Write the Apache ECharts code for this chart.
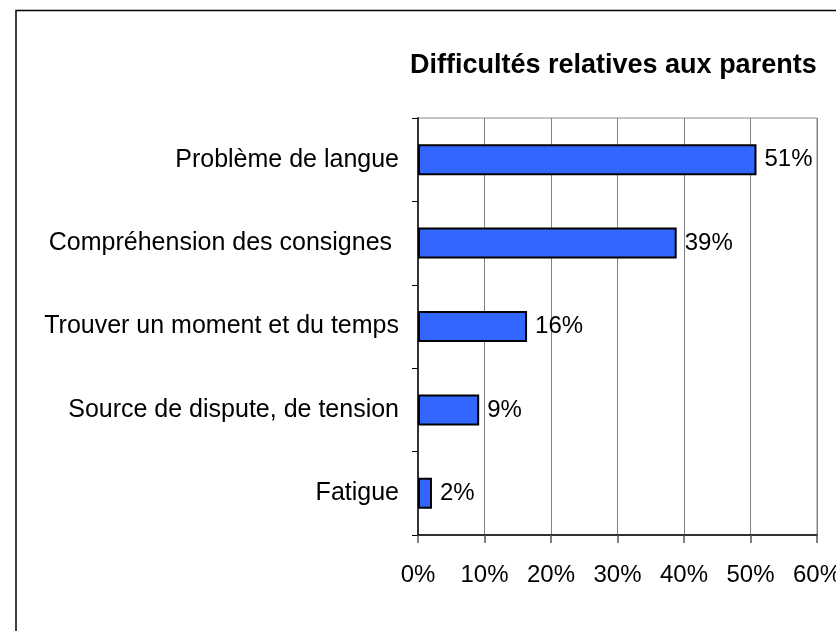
<!DOCTYPE html>
<html>
<head>
<meta charset="utf-8">
<title>Difficultés relatives aux parents</title>
<script src="https://cdn.jsdelivr.net/npm/echarts@6/dist/echarts.min.js"></script>
<style>
  html, body { margin: 0; padding: 0; background: #fff; }
  #chartContainer { width: 836px; height: 631px; }
</style>
</head>
<body>
<div id="chartContainer"></div>
<script>
// ============================================================
// DATA
// ============================================================

const chartTitle = 'Difficultés relatives aux parents';

// top to bottom, as in the picture
const categories = [
  'Problème de langue',
  'Compréhension des consignes ',
  'Trouver un moment et du temps',
  'Source de dispute, de tension',
  'Fatigue'
];

// percent values (bar lengths), labels are rounded
const percentValues = [50.9, 38.9, 16.4, 9.2, 2.1];

// x axis ticks 0..60 step 10
const xMin = 0;
const xMax = 60;
const xStep = 10;


// ============================================================
// RENDER
// ============================================================

const fontName = '"Liberation Sans", Arial, sans-serif';
const container = document.getElementById('chartContainer');
const chartInstance = echarts.init(container, null, { renderer: 'canvas' });

chartInstance.setOption({
  animation: false,
  backgroundColor: '#fff',
  title: {
    text: chartTitle,
    left: 410,
    top: 52,
    padding: 0,
    textStyle: {
      fontFamily: fontName,
      fontSize: 27,
      fontWeight: 'bold',
      color: '#000'
    }
  },
  // outer frame of the chart area (right/bottom edges fall off the picture)
  graphic: [{
    type: 'rect',
    shape: { x: 16, y: 10.5, width: 1000, height: 1000 },
    style: { fill: null, stroke: '#000', lineWidth: 1.5 },
    silent: true,
    z: -1
  }],
  grid: {
    left: 418,
    right: 19,
    top: 118,
    bottom: 96,
    outerBoundsMode: 'none',   // let the 60% label run off the edge like the original
    show: true,
    borderColor: '#888',
    borderWidth: 1
  },
  xAxis: {
    type: 'value',
    min: xMin,
    max: xMax,
    interval: xStep,
    axisLine: { show: true, lineStyle: { color: '#000', width: 1.5 } },
    axisTick: { show: true, length: 8, lineStyle: { color: '#555', width: 1.5 } },
    splitLine: { show: true, lineStyle: { color: '#808080', width: 1 } },
    axisLabel: {
      margin: 28,
      fontFamily: fontName,
      fontSize: 24,
      color: '#000',
      formatter: function(v) { return v + '%'; }
    }
  },
  yAxis: {
    type: 'category',
    inverse: true,
    data: categories,
    axisLine: { show: true, lineStyle: { color: '#333', width: 2 } },
    axisTick: { show: true, length: 6, lineStyle: { color: '#000', width: 1 } },
    splitLine: { show: false },
    axisLabel: {
      margin: 19,
      fontFamily: fontName,
      fontSize: 25,
      color: '#000'
    }
  },
  series: [{
    type: 'bar',
    data: percentValues,
    barWidth: 31,
    itemStyle: {
      color: '#3366FF',
      borderColor: '#000',
      borderWidth: 2
    },
    label: {
      show: true,
      position: 'right',
      distance: 8,
      fontFamily: fontName,
      fontSize: 24,
      color: '#000',
      formatter: function(p) { return Math.round(p.value) + '%'; }
    }
  }]
});
</script>
</body>
</html>
